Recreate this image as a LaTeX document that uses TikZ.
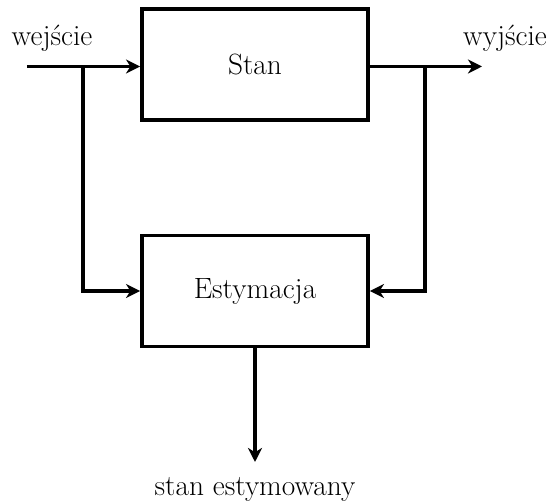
\documentclass[tikz,border=0pt]{standalone}
\usepackage{tikz}
\usetikzlibrary{arrows.meta}

\begin{document}
\begin{tikzpicture}[
    font=\fontsize{16.7}{20}\selectfont,
    blok/.style={draw, line width=2.2pt, minimum width=4.52cm, minimum height=2.22cm},
    strz/.style={line width=2.2pt, -{Stealth[length=8pt, width=8pt, inset=2.5pt]}},
    linia/.style={line width=2.2pt}
]
\useasboundingbox (0,0) rectangle (11.02,10.02);
% Bloki
\node[blok] (stan) at (5.10,8.73) {Stan};
\node[blok] (estym) at (5.10,4.20) {Estymacja};
% Punkty pomocnicze
\coordinate (we) at (0.54,8.69);
\coordinate (rozwe) at (1.66,8.69);
\coordinate (wy) at (9.64,8.69);
\coordinate (rozwy) at (8.50,8.69);
\coordinate (est) at (5.10,0.78);
% Etykiety
\node (lwe) at (1.04,9.26) {wejście};
\node (lwy) at (10.10,9.26) {wyjście};
\node (lest) at (5.10,0.24) {stan estymowany};
% Wejście
\draw[strz] (we) -- (we -| stan.west);
\draw[strz] (rozwe) |- (estym.west);
% Wyjście
\draw[strz] (wy -| stan.east) -- (wy);
\draw[strz] (rozwy) |- (estym.east);
% Stan estymowany
\draw[strz] (estym.south) -- (est);
\end{tikzpicture}
\end{document}
